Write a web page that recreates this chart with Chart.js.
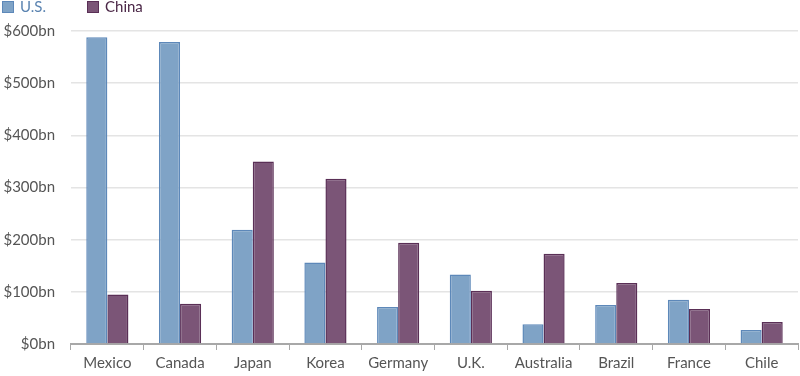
<!DOCTYPE html>
<html>
<head>
<meta charset="utf-8">
<script src="https://cdn.jsdelivr.net/npm/chart.js@4"></script>
<style>
  html, body { margin: 0; padding: 0; background: #fff; }
  #wrap { position: relative; width: 800px; height: 376px; }
  #legend { position: absolute; left: 2px; top: 0; font-family: Lato, sans-serif; font-size: 15px; line-height: 14px; }
  #legend span.item { position: absolute; top: 0; white-space: nowrap; }
  #legend span.box { position: absolute; top: 1px; width: 10px; height: 10px; border: 1px solid; }
  #legend span.txt { position: absolute; top: -1px; left: 18px; }
</style>
</head>
<body>
<div id="wrap">
  <canvas id="tradeChart" width="800" height="376"></canvas>
  <div id="legend"></div>
</div>
<script>
// countries and values in $bn
var countries = ['Mexico', 'Canada', 'Japan', 'Korea', 'Germany', 'U.K.', 'Australia', 'Brazil', 'France', 'Chile'];
var usValues = [588, 579, 219, 156, 71, 133, 38, 75, 85, 27];
var chinaValues = [95, 77, 350, 317, 194, 102, 173, 117, 67, 42];
var seriesNames = ['U.S.', 'China'];

var usFill = '#7fa3c6', usLine = '#5d88b9', usText = '#5b84b1';
var cnFill = '#7b5577', cnLine = '#5a2f56', cnText = '#4b2747';

var ctx = document.getElementById('tradeChart').getContext('2d');
var tradeChart = new Chart(ctx, {
    type: 'bar',
    data: {
        labels: countries,
        datasets: [{
            label: seriesNames[0],
            data: usValues,
            backgroundColor: usFill,
            borderColor: usLine,
            borderWidth: 1.5,
            borderSkipped: 'bottom'
        }, {
            label: seriesNames[1],
            data: chinaValues,
            backgroundColor: cnFill,
            borderColor: cnLine,
            borderWidth: 1.5,
            borderSkipped: 'bottom'
        }]
    },
    options: {
        responsive: false,
        animation: false,
        layout: { padding: { left: 0, right: 2, top: 31, bottom: 0 } },
        datasets: { bar: { categoryPercentage: 0.58, barPercentage: 1 } },
        plugins: {
            tooltip: { enabled: false },
            legend: { display: false }
        },
        scales: {
            x: {
                grid: {
                    display: true,
                    drawOnChartArea: false,
                    drawTicks: true,
                    tickLength: 6,
                    color: '#a8a8a8'
                },
                border: { display: true, color: '#a8a8a8', width: 2 },
                ticks: {
                    color: '#555',
                    padding: 4,
                    font: { family: 'Lato', size: 15 }
                }
            },
            y: {
                min: 0,
                max: 600,
                afterFit: function (scale) { scale.width = 71; },
                ticks: {
                    stepSize: 100,
                    color: '#555',
                    padding: 16,
                    font: { family: 'Lato', size: 15 },
                    callback: function (v) { return '$' + v + 'bn'; }
                },
                grid: { color: '#e4e4e4', lineWidth: 1.5, drawTicks: false },
                border: { display: false }
            }
        }
    }
});

// html legend, built from the datasets
var legendEl = document.getElementById('legend');
var legendX = [0, 85];
var legendText = [usText, cnText];
tradeChart.data.datasets.forEach(function (ds, i) {
    var item = document.createElement('span');
    item.className = 'item';
    item.style.left = legendX[i] + 'px';
    item.innerHTML = '<span class="box" style="background:' + ds.backgroundColor + ';border-color:' + ds.borderColor + '"></span>' +
        '<span class="txt" style="color:' + legendText[i] + '">' + ds.label + '</span>';
    legendEl.appendChild(item);
});
</script>
</body>
</html>
